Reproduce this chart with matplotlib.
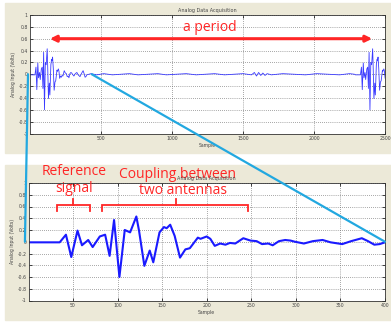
import matplotlib
matplotlib.use("Agg")
import matplotlib.pyplot as plt
from matplotlib.patches import Rectangle, ConnectionPatch
import numpy as np

# ---------------- data ----------------
zoom_samples = [0, 35, 42, 48, 55, 60, 67, 72, 80, 86, 91, 96, 102, 108, 114,
                121, 124, 130, 136, 140, 147, 152, 155, 159, 164, 170, 176,
                181, 186, 190, 193, 200, 204, 209, 215, 221, 226, 232, 241,
                249, 256, 262, 269, 274, 281, 288, 294, 299, 309, 319, 330,
                339, 352, 362, 374, 381, 388, 394, 400]
zoom_values = [-0.01, -0.01, 0.12, -0.26, 0.19, -0.06, 0.03, -0.09, 0.09, 0.12,
               -0.24, 0.37, -0.60, 0.20, 0.16, 0.43, 0.19, -0.41, -0.15, -0.35,
               0.16, 0.25, 0.23, 0.29, 0.10, -0.27, -0.13, -0.11, -0.01, 0.07,
               0.05, 0.09, 0.05, -0.07, -0.03, -0.05, -0.02, -0.03, 0.06, 0.02,
               0.01, -0.04, -0.03, -0.06, 0.01, 0.03, 0.02, 0.00, -0.03, 0.01,
               0.03, -0.01, -0.04, 0.01, 0.06, 0.01, -0.05, -0.04, -0.01]

quiet_samples = [430, 470, 520, 580, 640, 700, 760, 830, 900, 960, 1030, 1100,
                 1170, 1240, 1300, 1370, 1440, 1500, 1560, 1580, 1595, 1610,
                 1625, 1640, 1655, 1670, 1700, 1780, 1860, 1940, 2020, 2100,
                 2180, 2250, 2285]
quiet_values = [0.01, -0.01, 0.01, -0.01, 0.0, 0.01, -0.01, 0.0, 0.01, -0.01,
                0.0, 0.01, -0.01, 0.0, 0.01, -0.01, 0.0, 0.01, -0.01, 0.03,
                -0.03, 0.03, -0.02, 0.02, -0.02, 0.01, -0.01, 0.01, 0.0, -0.01,
                0.01, 0.0, -0.01, 0.01, 0.0]

period = 2292           # samples between bursts
full_xmax = 2500
zoom_xmax = 400

y_ticks = [-1, -0.8, -0.6, -0.4, -0.2, 0, 0.2, 0.4, 0.6, 0.8, 1]
y_ticklabels = ["-1", "-0.8", "-0.6", "-0.4", "-0.2", "0", "0.2", "0.4", "0.6", "0.8", "1"]
top_xticks = [500, 1000, 1500, 2000, 2500]
bot_xticks = [50, 100, 150, 200, 250, 300, 350, 400]

# build full-record series from the read values
full_x = list(zoom_samples) + quiet_samples + [s + period for s in zoom_samples]
full_y = list(zoom_values) + quiet_values + list(zoom_values)

# ---------------- figure ----------------
W, H = 391, 322
fig = plt.figure(figsize=(W / 100, H / 100), dpi=100)
fig.patch.set_facecolor("white")
beige = "#ece9d8"
fig.patches.append(Rectangle((5 / W, 1 - 153 / H), 386 / W, 150 / H,
                             transform=fig.transFigure, color=beige, zorder=-10))
fig.patches.append(Rectangle((5 / W, 1 - 320 / H), 386 / W, 155 / H,
                             transform=fig.transFigure, color=beige, zorder=-10))

ax1 = fig.add_axes([30 / W, 1 - 133.5 / H, 355 / W, 118.5 / H])
ax2 = fig.add_axes([28.5 / W, 1 - 300.5 / H, 356.5 / W, 117.5 / H])

tick_fs = 3.3
for ax in (ax1, ax2):
    ax.set_facecolor("white")
    ax.set_ylim(-1, 1)
    ax.set_yticks(y_ticks)
    ax.set_yticklabels(y_ticklabels)
    ax.grid(True, linestyle=(0, (1, 2)), color="#555555", linewidth=0.5)
    ax.tick_params(direction="in", length=2, width=0.5, labelsize=tick_fs,
                   labelcolor="#444444", top=True, right=True, pad=1.5)
    for sp in ax.spines.values():
        sp.set_linewidth(0.6)
        sp.set_color("#333333")
    ax.set_ylabel("Analog Input (Volts)", fontsize=3.3, color="#444444", labelpad=2)
    ax.set_xlabel("Sample", fontsize=3.3, color="#444444", labelpad=1.5)
    ax.set_title("Analog Data Acquisition", fontsize=3.5, color="#444444", pad=2.5)

ax1.set_xlim(0, full_xmax)
ax1.set_xticks(top_xticks)
ax1.plot(full_x, full_y, color="#3a3aff", linewidth=0.6)

ax2.set_xlim(0, zoom_xmax)
ax2.set_xticks(bot_xticks)
ax2.plot(zoom_samples, zoom_values, color="#1a1aff", linewidth=1.5,
         solid_joinstyle="round", solid_capstyle="round")

red = "#ff2626"
cyan = "#22a8e0"

# period arrow
ax1.annotate("", xy=(2410, 0.6), xytext=(140, 0.6),
             arrowprops=dict(arrowstyle="<|-|>", color=red, lw=2.2,
                             mutation_scale=9, shrinkA=0, shrinkB=0))
ax1.text(1267, 0.79, "a period", color=red, fontsize=10, family="Open Sans",
         ha="center", va="center")

# brackets and labels in zoom panel
def bracket(ax, x0, x1, xc):
    ax.plot([x0, x0, x1, x1], [0.53, 0.62, 0.62, 0.53], color=red, lw=1.3,
            clip_on=False, solid_joinstyle="miter")
    ax.plot([xc, xc], [0.62, 0.72], color=red, lw=1.3, clip_on=False)

bracket(ax2, 32, 69, 50)
bracket(ax2, 83, 246, 165)
ax2.text(51, 1.19, "Reference", color=red, fontsize=10, family="Open Sans",
         ha="center", va="center", clip_on=False)
ax2.text(51, 0.90, "signal", color=red, fontsize=10, family="Open Sans",
         ha="center", va="center", clip_on=False)
ax2.text(167, 1.15, "Coupling between", color=red, fontsize=10, family="Open Sans",
         ha="center", va="center", clip_on=False)
ax2.text(173, 0.88, "two antennas", color=red, fontsize=10, family="Open Sans",
         ha="center", va="center", clip_on=False)

# cyan zoom lines
for xa, xb in [(-14, -4), (435, zoom_xmax)]:
    con = ConnectionPatch(xyA=(xa, 0), coordsA=ax1.transData,
                          xyB=(xb, 0), coordsB=ax2.transData,
                          color=cyan, lw=1.6, zorder=10)
    fig.add_artist(con)

fig.savefig("out.png", dpi=100)
